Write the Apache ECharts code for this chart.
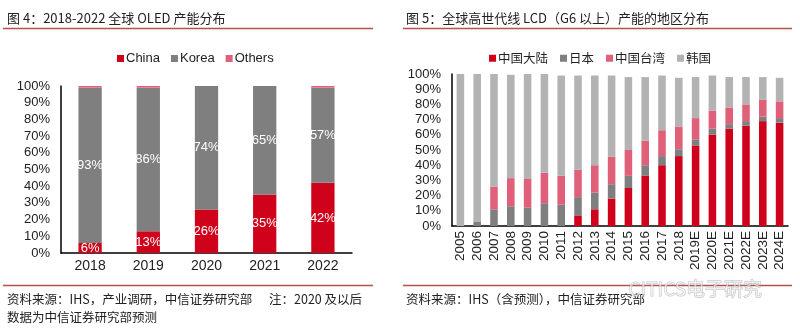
<!DOCTYPE html>
<html>
<head>
<meta charset="utf-8">
<script src="https://cdn.jsdelivr.net/npm/echarts@6/dist/echarts.min.js"></script>
<style>
  html, body { margin: 0; padding: 0; background: #fff; }
  #chart { width: 800px; height: 329px; }
</style>
</head>
<body>
<div id="chart"></div>
<script>
// Figure 4: global OLED capacity share by country
const oledYears = ['2018', '2019', '2020', '2021', '2022'];
const oledChina = [6, 13, 26, 35, 42];
const oledKorea = [93, 86, 74, 65, 57];
const oledOthers = [1, 1, 0, 0, 1];

// Figure 5: high-generation LCD (G6+) capacity share by region
const lcdYears = ['2005', '2006', '2007', '2008', '2009', '2010', '2011', '2012', '2013', '2014',
  '2015', '2016', '2017', '2018', '2019E', '2020E', '2021E', '2022E', '2023E', '2024E'];
const lcdMainland = [0, 0, 0, 0, 0, 0, 0, 7, 11, 18, 25, 33, 40, 46, 53, 60, 64, 66, 69, 68];
const lcdJapan = [0, 3, 11, 13, 12, 15, 14, 12, 11, 9.5, 8, 7, 6, 4.5, 4, 4, 3, 3, 3, 3];
const lcdTaiwan = [0, 0, 15, 18.5, 19, 20, 19, 18, 18, 18, 17, 16, 17, 15, 14, 12, 11, 11, 11, 11];
const lcdKorea = [100, 97, 74, 68, 69, 65, 66, 62, 59, 53.5, 48, 42, 36, 32, 27, 23, 20, 18, 15, 15.5];

const RED = '#d0021b';
const DARK_GRAY = '#7f7f7f';
const PINK = '#e0607a';
const LIGHT_GRAY = '#b3b3b3';
const RULE = '#b5524f';
const FONT = '"Liberation Sans", "Noto Sans CJK SC", sans-serif';
const CJK = '"Noto Sans CJK SC", "Liberation Sans", sans-serif';

const chart = echarts.init(document.getElementById('chart'), null, { renderer: 'canvas' });

const inBarLabel = {
  show: true, position: 'inside', color: '#fff', fontSize: 13, fontFamily: FONT,
  formatter: p => p.value + '%'
};

function valueAxis(gridIndex, fontSize, margin) {
  return {
    type: 'value', gridIndex, min: 0, max: 100, interval: 10,
    axisLine: { show: true, lineStyle: { color: '#000', width: 1.5 } },
    axisTick: { show: false },
    splitLine: { show: false },
    axisLabel: { formatter: '{value}%', color: '#222', fontSize, fontFamily: FONT, margin }
  };
}

const option = {
  backgroundColor: '#fff',
  animation: false,
  textStyle: { fontFamily: FONT },
  grid: [
    { left: 61, right: 448, top: 86, bottom: 76 },
    { left: 452, right: 12, top: 74, bottom: 103 }
  ],
  legend: [
    {
      data: ['China', 'Korea', 'Others'],
      left: 112, top: 47, itemWidth: 7, itemHeight: 7, itemGap: 11,
      icon: 'rect', textStyle: { fontSize: 13, color: '#222', fontFamily: FONT, padding: [0, 0, 0, -3] }
    },
    {
      data: ['中国大陆', '日本', '中国台湾', '韩国'],
      left: 484, top: 47, itemWidth: 7, itemHeight: 7, itemGap: 12,
      icon: 'rect', textStyle: { fontSize: 12.5, color: '#222', fontFamily: CJK, padding: [0, 0, 0, -3] }
    }
  ],
  xAxis: [
    {
      type: 'category', gridIndex: 0, data: oledYears,
      axisLine: { lineStyle: { color: '#000', width: 1.5 } },
      axisTick: { show: false },
      axisLabel: { color: '#222', fontSize: 14, fontFamily: FONT, margin: 6 }
    },
    {
      type: 'category', gridIndex: 1, data: lcdYears,
      axisLine: { lineStyle: { color: '#000', width: 1.5 } },
      axisTick: { show: false },
      axisLabel: { color: '#222', fontSize: 13.5, fontFamily: FONT, rotate: 90, margin: 5, interval: 0 }
    }
  ],
  yAxis: [valueAxis(0, 13, 11), valueAxis(1, 13, 11)],
  series: [
    { name: 'China', type: 'bar', stack: 'oled', xAxisIndex: 0, yAxisIndex: 0, data: oledChina,
      barWidth: '40%', itemStyle: { color: RED }, label: inBarLabel },
    { name: 'Korea', type: 'bar', stack: 'oled', xAxisIndex: 0, yAxisIndex: 0, data: oledKorea,
      barWidth: '40%', itemStyle: { color: DARK_GRAY }, label: inBarLabel },
    { name: 'Others', type: 'bar', stack: 'oled', xAxisIndex: 0, yAxisIndex: 0, data: oledOthers,
      barWidth: '40%', itemStyle: { color: PINK } },

    { name: '中国大陆', type: 'bar', stack: 'lcd', xAxisIndex: 1, yAxisIndex: 1, data: lcdMainland,
      barWidth: '45%', itemStyle: { color: RED } },
    { name: '日本', type: 'bar', stack: 'lcd', xAxisIndex: 1, yAxisIndex: 1, data: lcdJapan,
      barWidth: '45%', itemStyle: { color: DARK_GRAY } },
    { name: '中国台湾', type: 'bar', stack: 'lcd', xAxisIndex: 1, yAxisIndex: 1, data: lcdTaiwan,
      barWidth: '45%', itemStyle: { color: PINK } },
    { name: '韩国', type: 'bar', stack: 'lcd', xAxisIndex: 1, yAxisIndex: 1, data: lcdKorea,
      barWidth: '45%', itemStyle: { color: LIGHT_GRAY } }
  ],
  graphic: [
    // titles
    { type: 'text', left: 7, top: 12, style: { text: '图 4：2018-2022 全球 OLED 产能分布', fill: '#222', font: '13px ' + CJK } },
    { type: 'text', left: 406, top: 12, style: { text: '图 5：全球高世代线 LCD（G6 以上）产能的地区分布', fill: '#222', font: '13px ' + CJK } },
    // rules under titles and above sources
    { type: 'line', shape: { x1: 3, y1: 28.5, x2: 373, y2: 28.5 }, style: { stroke: RULE, lineWidth: 1.5 } },
    { type: 'line', shape: { x1: 403, y1: 28.5, x2: 792, y2: 28.5 }, style: { stroke: RULE, lineWidth: 1.5 } },
    { type: 'line', shape: { x1: 3, y1: 285.5, x2: 373, y2: 285.5 }, style: { stroke: RULE, lineWidth: 1.5 } },
    { type: 'line', shape: { x1: 403, y1: 285.5, x2: 792, y2: 285.5 }, style: { stroke: RULE, lineWidth: 1.5 } },
    // sources
    { type: 'text', left: 7, top: 293, style: { text: '资料来源：IHS，产业调研，中信证券研究部      注：2020 及以后', fill: '#222', font: '12.5px ' + CJK } },
    { type: 'text', left: 7, top: 311, style: { text: '数据为中信证券研究部预测', fill: '#222', font: '12.5px ' + CJK } },
    { type: 'text', left: 406, top: 293, style: { text: '资料来源：IHS（含预测），中信证券研究部', fill: '#222', font: '12.5px ' + CJK } },
    // faint watermark
    { type: 'text', left: 628, top: 279, z: 100, style: { text: 'CITICS电子研究', fill: 'rgba(255,255,255,0.55)', stroke: 'rgba(150,150,150,0.55)', lineWidth: 1, font: '19px ' + CJK } }
  ]
};

chart.setOption(option);
</script>
</body>
</html>
